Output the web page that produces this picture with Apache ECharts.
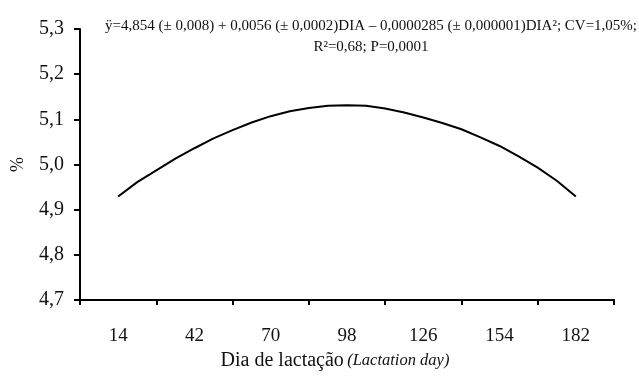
<!DOCTYPE html>
<html>
<head>
<meta charset="utf-8">
<script src="https://cdn.jsdelivr.net/npm/echarts@6/dist/echarts.min.js"></script>
<style>
  html, body { margin: 0; padding: 0; background: #fff; }
  #main { width: 639px; height: 376px; }
</style>
</head>
<body>
<div id="main"></div>
<script>
// tick labels on the x axis (lactation days)
var dayLabels = ['14', '42', '70', '98', '126', '154', '182'];

// fitted curve
var days = [14, 21, 28, 35, 42, 49, 56, 63, 70, 77, 84, 91, 98,
            105, 112, 119, 126, 133, 140, 147, 154, 161, 168, 175, 182];
var values = [4.929, 4.961, 4.987, 5.013, 5.036, 5.058, 5.076, 5.093, 5.107, 5.118, 5.125, 5.130, 5.131,
              5.130, 5.124, 5.115, 5.104, 5.092, 5.078, 5.060, 5.041, 5.018, 4.993, 4.964, 4.929];

var yTicks = [4.7, 4.8, 4.9, 5.0, 5.1, 5.2, 5.3];

var serif = '"Liberation Serif", "Times New Roman", serif';

var myChart = echarts.init(document.getElementById('main'));

var lineData = days.map(function (d, i) { return [d, values[i]]; });

var option = {
    animation: false,
    backgroundColor: '#fff',
    title: {
        text: 'ÿ=4,854 (± 0,008) + 0,0056 (± 0,0002)DIA – 0,0000285 (± 0,000001)DIA²; CV=1,05%;\nR²=0,68; P=0,0001',
        left: 366,
        top: 11,
        textAlign: 'center',
        textStyle: {
            fontFamily: serif,
            fontSize: 15,
            fontWeight: 'normal',
            color: '#111',
            lineHeight: 21
        }
    },
    grid: {
        left: 80,
        right: 25,
        top: 29,
        bottom: 73,
        containLabel: false
    },
    xAxis: [
        {
            type: 'value',
            min: 0,
            max: 196,
            interval: 28,
            position: 'bottom',
            axisLine: { show: true, lineStyle: { color: '#000', width: 2 } },
            axisTick: { show: true, inside: false, length: 5, lineStyle: { color: '#000', width: 2 } },
            axisLabel: { show: false },
            splitLine: { show: false }
        },
        {
            type: 'category',
            data: dayLabels,
            boundaryGap: true,
            position: 'bottom',
            axisLine: { show: false },
            axisTick: { show: false },
            splitLine: { show: false },
            axisLabel: {
                margin: 27,
                color: '#111',
                fontFamily: serif,
                fontSize: 19
            },
            name: '{a|Dia de lactação} {b|(Lactation day)}',
            nameLocation: 'middle',
            nameGap: 51,
            nameTextStyle: {
                padding: [0, 24, 0, 0],
                rich: {
                    a: { fontFamily: serif, fontSize: 20, color: '#111' },
                    b: { fontFamily: serif, fontSize: 16.5, fontStyle: 'italic', color: '#111' }
                }
            }
        }
    ],
    yAxis: {
        type: 'value',
        min: yTicks[0],
        max: yTicks[yTicks.length - 1],
        interval: 0.1,
        name: '%',
        nameLocation: 'middle',
        nameGap: 53,
        nameRotate: 90,
        nameTextStyle: { fontFamily: serif, fontSize: 18, color: '#111' },
        axisLine: { show: true, lineStyle: { color: '#000', width: 2 } },
        axisTick: { show: true, inside: false, length: 6, lineStyle: { color: '#000', width: 2 } },
        splitLine: { show: false },
        axisLabel: {
            margin: 16,
            color: '#111',
            fontFamily: serif,
            fontSize: 20,
            formatter: function (v) { return v.toFixed(1).replace('.', ','); }
        }
    },
    series: [
        {
            type: 'line',
            xAxisIndex: 0,
            data: lineData,
            showSymbol: false,
            smooth: false,
            lineStyle: { color: '#000', width: 2 }
        }
    ]
};

myChart.setOption(option);
window.onresize = myChart.resize;
</script>
</body>
</html>
